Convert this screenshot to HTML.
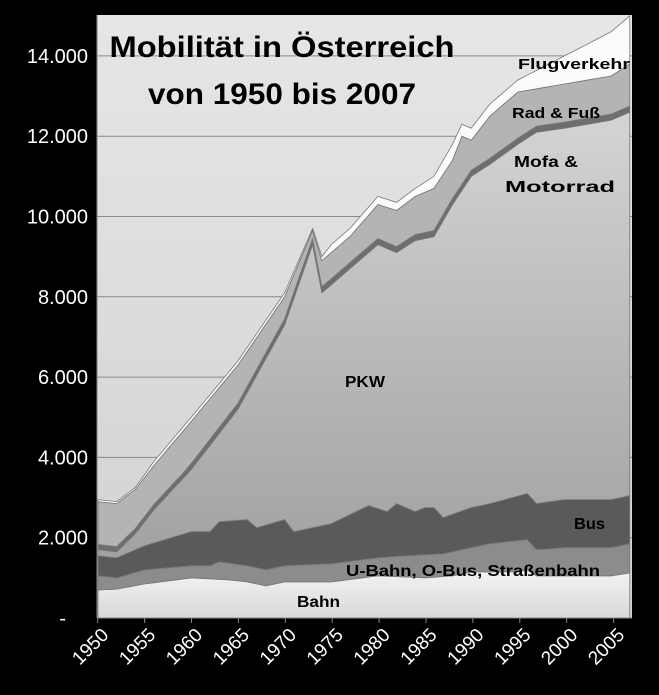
<!DOCTYPE html>
<html><head><meta charset="utf-8"><style>
html,body{margin:0;padding:0;background:#000;width:659px;height:695px;overflow:hidden}
svg{display:block;font-family:"Liberation Sans",sans-serif}
</style></head><body>
<svg id="s" width="659" height="695" viewBox="0 0 659 695">
<defs>
<linearGradient id="bg" x1="0" y1="0" x2="0" y2="1"><stop offset="0" stop-color="#e6e6e6"/><stop offset="1" stop-color="#d2d2d2"/></linearGradient>
<linearGradient id="pkw" x1="0" y1="0" x2="0" y2="1"><stop offset="0" stop-color="#d4d4d4"/><stop offset="1" stop-color="#a2a2a2"/></linearGradient>
<linearGradient id="bahn" x1="0" y1="0" x2="0" y2="1"><stop offset="0" stop-color="#f4f4f4"/><stop offset="1" stop-color="#d8d8d8"/></linearGradient>
</defs>
<rect x="97" y="15" width="535" height="603" fill="url(#bg)"/>
<g id="grid" stroke="#8a8a8a" stroke-width="1"></g>
<g id="areas"></g>
<line x1="97" y1="618" x2="632" y2="618" stroke="#888"/>
<line x1="97" y1="15" x2="97" y2="618" stroke="#888"/>
<g id="ylab" fill="#fff" font-size="20" text-anchor="end"></g>
<g id="xlab" fill="#fff" font-size="19"></g>
<g font-weight="bold" fill="#000">
<text x="282" y="57" font-size="30" text-anchor="middle" textLength="345" lengthAdjust="spacingAndGlyphs">Mobilität in Österreich</text>
<text x="282" y="104" font-size="30" text-anchor="middle" textLength="268" lengthAdjust="spacingAndGlyphs">von 1950 bis 2007</text>
<text x="518" y="69" font-size="15" textLength="112" lengthAdjust="spacingAndGlyphs">Flugverkehr</text>
<text x="512" y="118" font-size="15" textLength="88" lengthAdjust="spacingAndGlyphs">Rad &amp; Fuß</text>
<text x="514" y="167" font-size="16" textLength="64" lengthAdjust="spacingAndGlyphs">Mofa &amp;</text>
<text x="505" y="192" font-size="16" textLength="110" lengthAdjust="spacingAndGlyphs">Motorrad</text>
<text x="345" y="387" font-size="16" textLength="40" lengthAdjust="spacingAndGlyphs">PKW</text>
<text x="574" y="529" font-size="16" textLength="31" lengthAdjust="spacingAndGlyphs">Bus</text>
<text x="346" y="576" font-size="16" textLength="254" lengthAdjust="spacingAndGlyphs">U-Bahn,  O-Bus, Straßenbahn</text>
<text x="297" y="607" font-size="16" textLength="43" lengthAdjust="spacingAndGlyphs">Bahn</text>
</g>
</svg>
<script>
var NS="http://www.w3.org/2000/svg";
function Y(v){return 618-v*0.04015;}
function X(yr){return 98+(yr-1950)*9.33;}
function interp(k){var o=[];for(var y=1950;y<=2007;y++){for(var i=0;i<k.length-1;i++){if(y>=k[i][0]&&y<=k[i+1][0]){var t=(y-k[i][0])/((k[i+1][0]-k[i][0])||1);o.push(k[i][1]+t*(k[i+1][1]-k[i][1]));break;}}}return o;}
var bahn=interp([[1950,700],[1952,720],[1955,850],[1960,1000],[1964,950],[1966,900],[1968,800],[1970,900],[1975,900],[1980,1050],[1985,1000],[1988,1050],[1990,1150],[1995,1150],[1996,1200],[1997,1050],[2000,1050],[2005,1050],[2007,1120]]);
var ubahn=interp([[1950,1050],[1952,1000],[1955,1200],[1960,1300],[1962,1300],[1963,1400],[1966,1300],[1968,1200],[1970,1300],[1975,1350],[1980,1500],[1983,1550],[1987,1600],[1990,1750],[1992,1850],[1996,1950],[1997,1700],[2000,1750],[2005,1750],[2007,1850]]);
var bus=interp([[1950,1550],[1952,1500],[1955,1800],[1960,2150],[1962,2150],[1963,2400],[1966,2450],[1967,2250],[1970,2450],[1971,2150],[1975,2350],[1979,2800],[1981,2650],[1982,2850],[1984,2650],[1985,2750],[1986,2750],[1987,2500],[1990,2750],[1992,2850],[1996,3100],[1997,2850],[2000,2950],[2005,2950],[2007,3050]]);
var pkw=interp([[1950,1700],[1952,1650],[1954,2100],[1956,2700],[1960,3700],[1965,5200],[1970,7300],[1973,9300],[1974,8100],[1975,8300],[1977,8700],[1980,9300],[1982,9100],[1984,9400],[1986,9500],[1988,10300],[1990,11000],[1992,11300],[1995,11800],[1997,12100],[2000,12200],[2005,12400],[2007,12600]]);
var mofa=pkw.map(function(v,i){return v+110+ (i<10?20:40);});
var rad=interp([[1950,2900],[1952,2850],[1954,3200],[1956,3800],[1960,4900],[1965,6300],[1970,8000],[1973,9650],[1974,8900],[1975,9100],[1977,9500],[1980,10300],[1982,10150],[1984,10500],[1986,10700],[1988,11400],[1989,12000],[1990,11900],[1992,12500],[1995,13100],[2000,13300],[2005,13500],[2007,13800]]);
var flug=interp([[1950,2950],[1952,2900],[1954,3250],[1956,3900],[1960,5000],[1965,6400],[1970,8100],[1973,9700],[1974,9000],[1975,9300],[1977,9700],[1980,10500],[1982,10350],[1984,10700],[1986,11000],[1988,11800],[1989,12300],[1990,12200],[1992,12800],[1995,13400],[2000,14000],[2005,14600],[2007,15000]]);
var layers=[[bahn,"url(#bahn)"],[ubahn,"#8c8c8c"],[bus,"#5a5a5a"],[pkw,"url(#pkw)"],[mofa,"#6e6e6e"],[rad,"#b4b4b4"],[flug,"#fbfbfb"]];
var g=document.getElementById("areas");
var prev=null;
layers.forEach(function(L){var top=L[0],d="";for(var i=0;i<top.length;i++){d+=(i?"L":"M")+X(1950+i).toFixed(1)+" "+Y(top[i]).toFixed(1);}
 for(var i=top.length-1;i>=0;i--){d+="L"+X(1950+i).toFixed(1)+" "+(prev?Y(prev[i]):618).toFixed(1);}
 var p=document.createElementNS(NS,"path");p.setAttribute("d",d+"Z");p.setAttribute("fill",L[1]);p.setAttribute("stroke","#777");p.setAttribute("stroke-width","0.8");g.appendChild(p);prev=top;});
var gr=document.getElementById("grid"),yl=document.getElementById("ylab");
var labs=["-","2.000","4.000","6.000","8.000","10.000","12.000","14.000"];
for(var k=0;k<8;k++){var y=Y(k*2000);if(k>0){var l=document.createElementNS(NS,"line");l.setAttribute("x1",97);l.setAttribute("x2",632);l.setAttribute("y1",y);l.setAttribute("y2",y);gr.appendChild(l);}
 var t=document.createElementNS(NS,"text");t.setAttribute("x",k==0?66:88);t.setAttribute("y",y+7);t.textContent=labs[k];yl.appendChild(t);}
var xl=document.getElementById("xlab");
for(var yr=1950;yr<=2005;yr+=5){var x=97.7+(yr-1950)/5*46.9;var t=document.createElementNS(NS,"text");t.setAttribute("text-anchor","end");t.setAttribute("transform","translate("+(x+12)+",636) rotate(-45)");t.textContent=yr;xl.appendChild(t);
 var m=document.createElementNS(NS,"line");m.setAttribute("x1",x);m.setAttribute("x2",x);m.setAttribute("y1",618);m.setAttribute("y2",623);m.setAttribute("stroke","#888");xl.appendChild(m);}
</script>
</body></html>
